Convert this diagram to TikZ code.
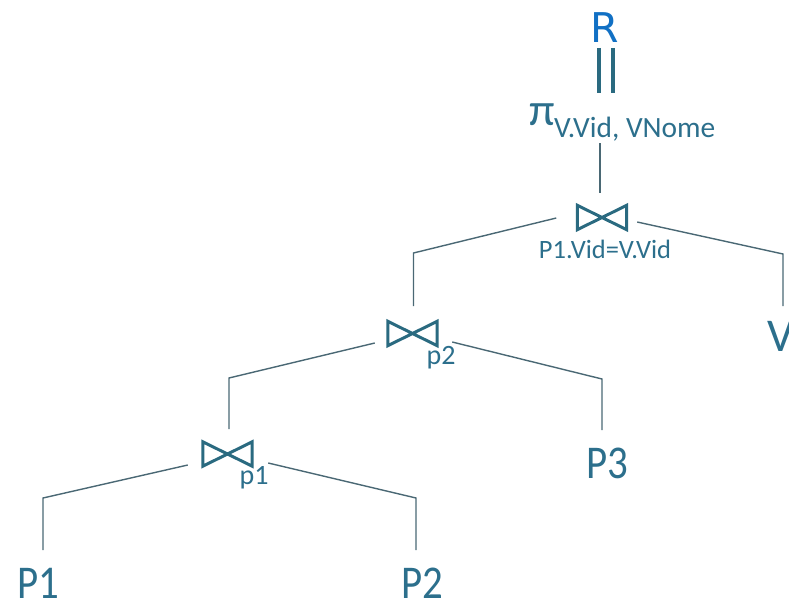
\documentclass[tikz,border=0pt]{standalone}
\usepackage{fontspec}
\usepackage{graphicx}
\setmainfont{Carlito}
\newfontfamily\rfont{DejaVu Sans}
\definecolor{txt}{HTML}{2C6F8C}
\definecolor{lin}{HTML}{4A6874}
\definecolor{rblue}{HTML}{1170C4}
\definecolor{bow}{HTML}{2A6A80}
\begin{document}
\begin{tikzpicture}[x=1pt,y=-1pt,
  lbl/.style={text=txt, inner sep=0, anchor=base},
  big/.style={lbl, font=\fontsize{47}{47}\selectfont},
  cond/.style={lbl, font=\fontsize{28}{28}\selectfont},
  conn/.style={draw=lin, line width=1.4pt},
  joinbox/.style={minimum width=49pt, minimum height=24pt, inner sep=0},
  bowline/.style={draw=bow, line width=3pt, line join=miter},
  eqbar/.style={draw=bow, line width=3.5pt}]
\useasboundingbox (0,0) rectangle (789,602);
% result and projection
\node[lbl, text=rblue, font=\rfont\fontsize{41}{41}\selectfont] (R) at (605,43) {R};
\node[lbl, anchor=base west, font=\fontsize{46}{46}\selectfont] (pi) at (529,125) {π};
\node[lbl, anchor=base west, font=\fontsize{29.4}{30}\selectfont] (proj) at (554,137) {V.Vid, VNome};
\coordinate (eqtop) at (606,48);
\coordinate (eqbot) at (606,93);
\draw[eqbar] ([xshift=-7pt]eqtop) -- ([xshift=-7pt]eqbot);
\draw[eqbar] ([xshift=7pt]eqtop) -- ([xshift=7pt]eqbot);
% joins
\node[joinbox] (jtop) at (602,217.5) {};
\node[joinbox] (jp2) at (412.5,333.5) {};
\node[joinbox] (jp1) at (227.5,454) {};
\foreach \j in {jtop,jp2,jp1}
  \draw[bowline] (\j.north west) -- (\j.south east) -- (\j.north east) -- (\j.south west) -- cycle;
\node[lbl, font=\fontsize{26.5}{26.5}\selectfont] (ctop) at (605,258) {P1.Vid=V.Vid};
\node[cond] (cp2) at (441,364) {p2};
\node[cond] (cp1) at (254,484) {p1};
% leaves
\node[big] (P1) at (38,598) {\scalebox{0.87}[1]{P1}};
\node[big] (P2) at (422,598) {\scalebox{0.87}[1]{P2}};
\node[big] (P3) at (607,478) {\scalebox{0.87}[1]{P3}};
\node[big, anchor=base west] (V) at (767,351) {V};
% corners
\coordinate (ctl) at (413.5,253);
\coordinate (ctr) at (783,254);
\coordinate (c2l) at (229,378);
\coordinate (c2r) at (602,379);
\coordinate (c1l) at (43,498);
\coordinate (c1r) at (416,498);
% connectors
\draw[conn] (600,143) -- (600,193);
\draw[conn] ([shift={(-21,0.5)}]jtop.west) -- (ctl) -- (ctl |- 0,306);
\draw[conn] ([shift={(10.5,4.5)}]jtop.east) -- (ctr) -- (ctr |- 0,306);
\draw[conn] ([shift={(-13,9.5)}]jp2.west) -- (c2l) -- (c2l |- 0,429);
\draw[conn] ([shift={(15,8.5)}]jp2.east) -- (c2r) -- (c2r |- 0,430);
\draw[conn] ([shift={(-15,11)}]jp1.west) -- (c1l) -- (c1l |- 0,550);
\draw[conn] ([shift={(16,9)}]jp1.east) -- (c1r) -- (c1r |- 0,550);
\end{tikzpicture}
\end{document}
